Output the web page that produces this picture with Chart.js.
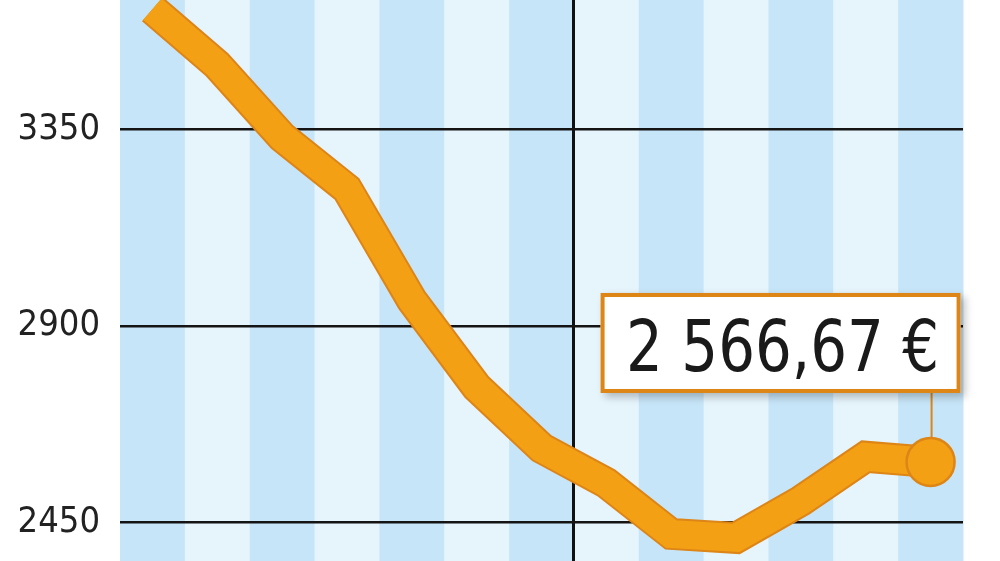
<!DOCTYPE html>
<html>
<head>
<meta charset="utf-8">
<script src="https://cdn.jsdelivr.net/npm/chart.js@4"></script>
<style>
  html, body { margin: 0; padding: 0; background: #ffffff; }
  #wrap { width: 1000px; height: 561px; }
</style>
</head>
<body>
<div id="wrap"><canvas id="priceChart"></canvas></div>
<script>
// one point per period (13 periods, vertical rule after the 7th)
const periods = ["1", "2", "3", "4", "5", "6", "7", "8", "9", "10", "11", "12", "13"];
const prices = [3626, 3498, 3333, 3214, 2959, 2760, 2620, 2540, 2423, 2414, 2499, 2600, 2588];
const yTicks = [2450, 2900, 3350];
const lastLabel = "2 566,67 €";

const ORANGE = "#f4a015";
const ORANGE_DARK = "#dd8516";
const STRIPE_DARK = "#c7e5f8";
const STRIPE_LIGHT = "#e6f4fc";
const FONT = "'DejaVu Sans Condensed', 'Liberation Sans Narrow', sans-serif";

// alternating vertical bands behind the grid
const stripes = {
  id: "stripes",
  beforeDraw(chart) {
    const { ctx, chartArea, scales } = chart;
    const x = scales.x;
    const step = x.getPixelForValue(1) - x.getPixelForValue(0);
    ctx.save();
    periods.forEach((p, i) => {
      const cx = x.getPixelForValue(i);
      ctx.fillStyle = i % 2 === 0 ? STRIPE_DARK : STRIPE_LIGHT;
      ctx.fillRect(cx - step / 2, chartArea.top, step + 0.5, chartArea.bottom - chartArea.top);
    });
    ctx.restore();
  },
};

// value box above the last point
const valueBox = {
  id: "valueBox",
  afterDatasetsDraw(chart) {
    const { ctx } = chart;
    const meta = chart.getDatasetMeta(1);
    const pt = meta.data[meta.data.length - 1];
    const right = pt.x + 30;
    const left = right - 360;
    const bottom = pt.y - 69;
    const top = bottom - 100;

    ctx.save();
    // connector
    ctx.strokeStyle = ORANGE_DARK;
    ctx.lineWidth = 2;
    ctx.beginPath();
    ctx.moveTo(pt.x + 1, bottom);
    ctx.lineTo(pt.x + 1, pt.y - 24);
    ctx.stroke();

    // box with soft shadow
    ctx.shadowColor = "rgba(0,0,0,0.25)";
    ctx.shadowBlur = 8;
    ctx.shadowOffsetX = 4;
    ctx.shadowOffsetY = 4;
    ctx.fillStyle = "#ffffff";
    ctx.fillRect(left, top, right - left, bottom - top);
    ctx.shadowColor = "transparent";
    ctx.strokeStyle = ORANGE_DARK;
    ctx.lineWidth = 4;
    ctx.strokeRect(left + 2, top + 2, right - left - 4, bottom - top - 4);

    // condensed text squeezed to the box width
    ctx.fillStyle = "#1a1a1a";
    ctx.font = "72px " + FONT;
    ctx.textAlign = "center";
    ctx.textBaseline = "alphabetic";
    const w = ctx.measureText(lastLabel).width;
    const sx = Math.min(1, 313 / w);
    ctx.translate((left + right) / 2 + 2, top + 78);
    ctx.scale(sx, 1);
    ctx.fillText(lastLabel, 0, 0);
    ctx.restore();
  },
};

const pointSizes = prices.map((v, i) => (i === prices.length - 1 ? 24 : 0));

new Chart(document.getElementById("priceChart"), {
  type: "line",
  data: {
    labels: periods,
    datasets: [
      {
        data: prices,
        order: 2,
        borderColor: ORANGE_DARK,
        borderWidth: 32,
        borderJoinStyle: "miter",
        borderCapStyle: "butt",
        pointRadius: 0,
        tension: 0,
        fill: false,
      },
      {
        data: prices,
        order: 1,
        borderColor: ORANGE,
        borderWidth: 28,
        borderJoinStyle: "miter",
        borderCapStyle: "butt",
        pointRadius: pointSizes,
        pointBackgroundColor: ORANGE,
        pointBorderColor: ORANGE_DARK,
        pointBorderWidth: 2.5,
        tension: 0,
        fill: false,
      },
    ],
  },
  options: {
    responsive: true,
    maintainAspectRatio: false,
    animation: false,
    events: [],
    layout: { autoPadding: false, padding: { left: 0, right: 37, top: 0, bottom: 0 } },
    plugins: {
      legend: { display: false },
      tooltip: { enabled: false },
    },
    scales: {
      x: {
        type: "category",
        offset: true,
        ticks: { display: false },
        border: { display: false },
        grid: {
          offset: true,
          drawTicks: false,
          lineWidth: 3,
          color: (c) => (c.index === 7 ? "#111111" : "rgba(0,0,0,0)"),
        },
        afterFit(scale) {
          scale.height = 0;
          scale.paddingLeft = 0;
          scale.paddingRight = 0;
        },
      },
      y: {
        min: 2361,
        max: 3647,
        border: { display: false },
        grid: { drawTicks: false, color: "#141414", lineWidth: 2.5 },
        ticks: {
          padding: 20,
          color: "#222222",
          font: { family: FONT, size: 36 },
          callback: (v) => String(v),
        },
        afterBuildTicks(scale) {
          scale.ticks = yTicks.map((v) => ({ value: v }));
        },
        afterFit(scale) {
          scale.width = 120;
          scale.paddingTop = 0;
          scale.paddingBottom = 0;
        },
      },
    },
  },
  plugins: [stripes, valueBox],
});
</script>
</body>
</html>
